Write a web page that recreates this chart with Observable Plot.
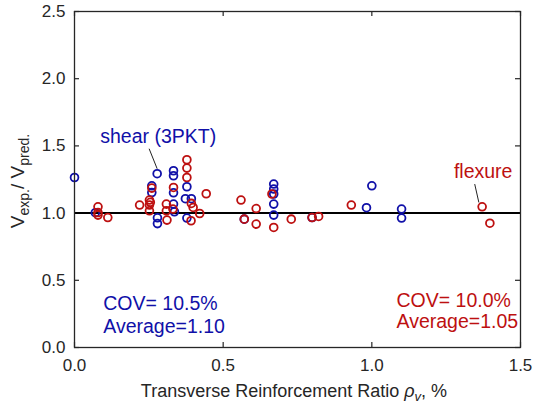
<!DOCTYPE html>
<html><head><meta charset="utf-8">
<script src="https://cdn.jsdelivr.net/npm/d3@7"></script>
<script src="https://cdn.jsdelivr.net/npm/@observablehq/plot@0.6"></script>
<style>body{margin:0;background:#fff} svg{display:block}</style>
</head><body><div id="chart"></div>
<script>
// Shear (3PKT) series
const shearRho = [0.0, 0.07, 0.26, 0.26, 0.278, 0.279, 0.279, 0.333, 0.333, 0.333, 0.333, 0.336, 0.378, 0.373, 0.393, 0.378, 0.571, 0.67, 0.67, 0.67, 0.67, 0.67, 0.799, 0.982, 1.0, 1.10, 1.10];
const shearRatio = [1.265, 1.003, 1.203, 1.153, 1.293, 0.965, 0.922, 1.315, 1.278, 1.151, 1.067, 1.01, 1.196, 1.107, 1.107, 0.963, 0.955, 1.216, 1.179, 1.142, 1.067, 0.985, 0.967, 1.04, 1.203, 1.03, 0.963];
// Flexure series
const flexRho = [0.079, 0.079, 0.079, 0.112, 0.219, 0.252, 0.255, 0.252, 0.252, 0.26, 0.309, 0.309, 0.311, 0.333, 0.331, 0.378, 0.378, 0.378, 0.393, 0.399, 0.392, 0.421, 0.443, 0.56, 0.571, 0.611, 0.611, 0.664, 0.67, 0.729, 0.799, 0.821, 0.931, 1.371, 1.397];
const flexRatio = [1.047, 1.004, 0.985, 0.967, 1.06, 1.097, 1.08, 1.06, 1.017, 1.186, 1.067, 1.017, 0.948, 1.191, 1.03, 1.397, 1.335, 1.265, 1.072, 1.042, 0.943, 0.997, 1.144, 1.097, 0.955, 1.034, 0.918, 1.142, 0.893, 0.955, 0.967, 0.975, 1.06, 1.047, 0.925];

const xTicks = [0, 0.5, 1.0, 1.5];
const yTicks = [0, 0.5, 1.0, 1.5, 2.0, 2.5];
const refValue = [1.0];

// annotations
const blueText = ["shear (3PKT)", "COV= 10.5%", "Average=1.10"];
const blueTextX = [0.0865, 0.0966, 0.0966];
const blueTextY = [1.569, 0.323, 0.156];
const redText = ["flexure", "COV= 10.0%", "Average=1.05"];
const redTextX = [1.276, 1.083, 1.083];
const redTextY = [1.306, 0.347, 0.193];
// leader lines [x1, y1, x2, y2]
const leaderShear = [0.251, 1.479, 0.278, 1.330];
const leaderFlex = [1.346, 1.216, 1.360, 1.079];

const BLUE = "#1010a8", RED = "#bd1010", AX = "#262626";
const W = 534, H = 405, ML = 74, MR = 14, MT = 11, MB = 58, TICK = 5;
const innerW = W - ML - MR, innerH = H - MT - MB;
const shear = shearRho.map((x, i) => ({x, y: shearRatio[i]}));
const flex = flexRho.map((x, i) => ({x, y: flexRatio[i]}));
const bt = blueText.map((t, i) => ({t, x: blueTextX[i], y: blueTextY[i]}));
const rt = redText.map((t, i) => ({t, x: redTextX[i], y: redTextY[i]}));
const leaders = [leaderShear, leaderFlex].map(a => ({x1: a[0], y1: a[1], x2: a[2], y2: a[3]}));

const chart = Plot.plot({
  width: W, height: H,
  marginLeft: ML, marginRight: MR, marginTop: MT, marginBottom: MB,
  style: {fontFamily: "'Liberation Sans', Arial, sans-serif", fontSize: "17px", color: AX, background: "#fff"},
  x: {domain: [0, 1.5]},
  y: {domain: [0, 2.5]},
  marks: [
    Plot.axisX(xTicks, {anchor: "bottom", tickSize: 0, tickPadding: 11, tickFormat: d3.format(".1f"), label: null, fill: AX}),
    Plot.axisY(yTicks, {anchor: "left", tickSize: 0, tickPadding: 9, tickFormat: d3.format(".1f"), label: null, fill: AX}),
    // inward tick marks on all four sides
    Plot.tickX(xTicks, {x: d => d, insetTop: innerH - TICK, stroke: AX, strokeWidth: 1.2}),
    Plot.tickX(xTicks, {x: d => d, insetBottom: innerH - TICK, stroke: AX, strokeWidth: 1.2}),
    Plot.tickY(yTicks, {y: d => d, insetRight: innerW - TICK, stroke: AX, strokeWidth: 1.2}),
    Plot.tickY(yTicks, {y: d => d, insetLeft: innerW - TICK, stroke: AX, strokeWidth: 1.2}),
    Plot.ruleY(refValue, {stroke: "#000", strokeWidth: 2}),
    Plot.dot(shear, {x: "x", y: "y", r: 3.9, stroke: BLUE, strokeWidth: 1.8, fill: "none"}),
    Plot.dot(flex, {x: "x", y: "y", r: 3.9, stroke: RED, strokeWidth: 1.8, fill: "none"}),
    Plot.link(leaders, {x1: "x1", y1: "y1", x2: "x2", y2: "y2", stroke: "#222", strokeWidth: 1}),
    Plot.text(bt, {x: "x", y: "y", text: "t", fill: BLUE, fontSize: 19.5, textAnchor: "start"}),
    Plot.text(rt, {x: "x", y: "y", text: "t", fill: RED, fontSize: 19.5, textAnchor: "start"}),
    Plot.frame({stroke: AX, strokeWidth: 1.3})
  ]
});
document.getElementById("chart").appendChild(chart);

const svg = d3.select(chart);
// y axis title
const yl = svg.append("text")
  .attr("transform", "translate(23.5,181) rotate(-90)")
  .attr("text-anchor", "middle")
  .attr("fill", AX)
  .style("font-size", "19px");
yl.append("tspan").text("V");
yl.append("tspan").attr("dy", "5").style("font-size", "14px").text("exp.");
yl.append("tspan").attr("dy", "-5").text("/ V");
yl.append("tspan").attr("dy", "5").style("font-size", "14px").text("pred.");

// x axis title
const xl = svg.append("text")
  .attr("x", 294).attr("y", 397)
  .attr("text-anchor", "middle")
  .attr("fill", AX)
  .style("font-size", "18px");
xl.append("tspan").text("Transverse Reinforcement Ratio ");
xl.append("tspan").style("font-style", "italic").text("ρ");
xl.append("tspan").attr("dy", "4").style("font-size", "13px").style("font-style", "italic").text("v");
xl.append("tspan").attr("dy", "-4").text(", %");
</script>
</body></html>
